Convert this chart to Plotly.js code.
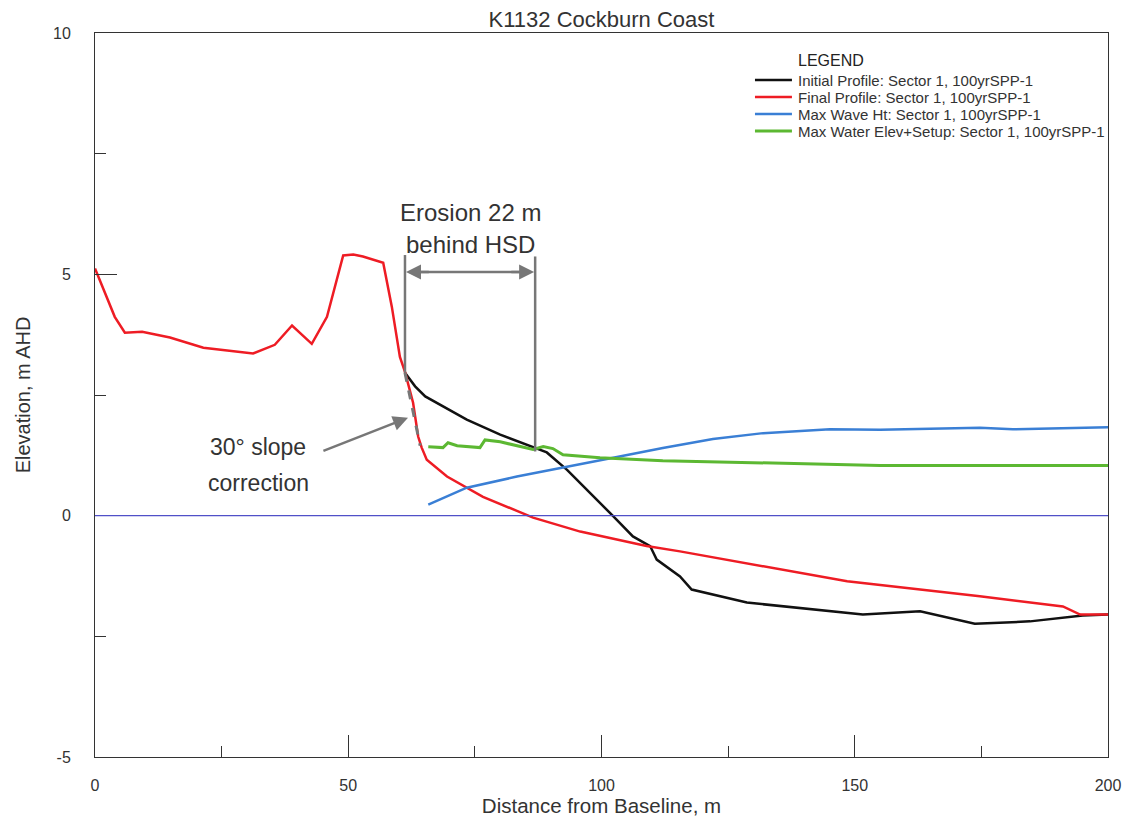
<!DOCTYPE html>
<html>
<head>
<meta charset="utf-8">
<script src="https://cdn.plot.ly/plotly-3.0.1.min.js"></script>
<style>html,body{margin:0;padding:0;background:#fff}#chart{width:1129px;height:822px}</style>
</head>
<body>
<div id="chart"></div>
<script>
// Initial Profile
const initialX = [61.2, 63.2, 65.2, 73.4, 80, 86.5, 89.2, 93.2, 95.8, 102.3, 106.2, 109.6, 110.9, 115.5, 117.8, 128.7, 151.6, 162.9, 173.7, 184.6, 195, 200];
const initialY = [2.96, 2.68, 2.47, 1.99, 1.68, 1.43, 1.31, 0.95, 0.68, -0.01, -0.43, -0.63, -0.91, -1.26, -1.53, -1.80, -2.05, -1.98, -2.24, -2.19, -2.07, -2.05];
// Final Profile
const finalX = [0, 3.9, 5.9, 9.3, 14.8, 21.4, 31.2, 35.5, 38.9, 42.8, 45.8, 49.0, 51, 52.9, 56.9, 58.6, 60.2, 61.2, 62.8, 63.8, 64.5, 65.5, 69.5, 76.6, 86.5, 95.8, 108.9, 115.5, 148.5, 174.7, 191.1, 194.5, 200];
const finalY = [5.12, 4.12, 3.79, 3.81, 3.69, 3.48, 3.36, 3.54, 3.94, 3.56, 4.12, 5.39, 5.41, 5.37, 5.24, 4.33, 3.29, 2.98, 2.34, 1.64, 1.41, 1.16, 0.81, 0.39, -0.04, -0.33, -0.63, -0.74, -1.36, -1.67, -1.88, -2.05, -2.05];
// Max Wave Ht
const waveX = [65.8, 73.4, 83.3, 93.2, 102.3, 112.1, 122, 131.9, 145.1, 155, 174.7, 181.2, 200];
const waveY = [0.23, 0.58, 0.81, 1.02, 1.20, 1.40, 1.59, 1.71, 1.79, 1.78, 1.82, 1.79, 1.83];
// Max Water Elev+Setup
const waterX = [65.8, 68.7, 69.7, 71.5, 76, 77, 80, 86.5, 88.5, 90.4, 92.4, 99.7, 112.1, 135.2, 155, 200];
const waterY = [1.43, 1.41, 1.51, 1.45, 1.41, 1.57, 1.53, 1.37, 1.43, 1.39, 1.26, 1.20, 1.14, 1.08, 1.04, 1.04];

const seriesNames = [
  'Initial Profile: Sector 1, 100yrSPP-1',
  'Final Profile: Sector 1, 100yrSPP-1',
  'Max Wave Ht: Sector 1, 100yrSPP-1',
  'Max Water Elev+Setup: Sector 1, 100yrSPP-1'
];
const seriesColors = ['#111111', '#ee1c24', '#3a7fd5', '#5cb832'];
const seriesWidths = [2.5, 2.5, 2.5, 3];

// Annotation values
const erosionStartX = 61.2, erosionEndX = 86.9, arrowY = 5.05;
const slopeTop = [61.2, 2.96], slopeBottom = [64.2, 1.45];

const traces = [initialX, finalX, waveX, waterX].map((xs, i) => ({
  type: 'scatter', mode: 'lines', hoverinfo: 'skip', showlegend: false,
  x: xs, y: [initialY, finalY, waveY, waterY][i], name: seriesNames[i],
  line: {color: seriesColors[i], width: seriesWidths[i]}
}));

const grey = '#777777';
const FONT = 'Liberation Sans, Arial, sans-serif';
const axisCommon = {
  showline: true, mirror: true, linecolor: '#333', linewidth: 1,
  showgrid: false, zeroline: false,
  ticks: 'inside', ticklen: 22, tickcolor: '#333', tickwidth: 1,
  tickfont: {family: FONT, size: 16, color: '#333'},
  minor: {ticks: 'inside', ticklen: 11, tickcolor: '#333', showgrid: false}
};

// Manual legend (paper coordinates of the plot area)
const legX0 = 0.6515, legX1 = 0.688, legTextX = 0.692, legTop = 0.935, legStep = 0.0235;
const legendShapes = seriesNames.map((n, i) => ({
  type: 'line', xref: 'paper', yref: 'paper', x0: legX0, x1: legX1,
  y0: legTop - i * legStep, y1: legTop - i * legStep,
  line: {color: seriesColors[i], width: seriesWidths[i]}
}));
const legendTexts = seriesNames.map((n, i) => ({
  text: n, xref: 'paper', yref: 'paper', x: legTextX, y: legTop - i * legStep,
  xanchor: 'left', yanchor: 'middle', showarrow: false,
  font: {family: FONT, size: 15, color: '#333'}
}));

const layout = {
  width: 1129, height: 822,
  margin: {l: 95, r: 21, t: 33, b: 65},
  paper_bgcolor: '#fff', plot_bgcolor: '#fff',
  font: {family: FONT, color: '#333'},
  title: {text: 'K1132 Cockburn Coast', xref: 'paper', x: 0.5, xanchor: 'center', y: 0.976, yanchor: 'middle',
          font: {size: 22, color: '#333'}},
  xaxis: Object.assign({}, axisCommon, {
    range: [0, 200], tickvals: [0, 50, 100, 150, 200], ticktext: ['0', '50', '100', '150', '200'],
    minor: Object.assign({}, axisCommon.minor, {tickvals: [25, 75, 125, 175]}),
    ticklabelstandoff: 14,
    title: {text: 'Distance from Baseline, m', font: {size: 20.5, color: '#333'}, standoff: 4}
  }),
  yaxis: Object.assign({}, axisCommon, {
    range: [-5, 10], tickvals: [-5, 0, 5, 10], ticktext: ['-5', '0', '5', '10'],
    minor: Object.assign({}, axisCommon.minor, {tickvals: [-2.5, 2.5, 7.5]}),
    ticklabelstandoff: 20,
    title: {text: 'Elevation, m AHD', font: {size: 20, color: '#333'}, standoff: 17}
  }),
  showlegend: false,
  shapes: [
    {type: 'line', xref: 'x', yref: 'y', x0: 0, x1: 200, y0: 0, y1: 0, line: {color: '#5050c8', width: 1.2}},
    {type: 'line', xref: 'x', yref: 'y', x0: erosionStartX, x1: erosionStartX, y0: 2.96, y1: 5.4, line: {color: grey, width: 2.5}},
    {type: 'line', xref: 'x', yref: 'y', x0: erosionEndX, x1: erosionEndX, y0: 1.33, y1: 5.37, line: {color: grey, width: 2.5}},
    {type: 'line', xref: 'x', yref: 'y', x0: erosionStartX + 1, x1: erosionEndX - 1, y0: arrowY, y1: arrowY, line: {color: grey, width: 2.5}},
    {type: 'line', xref: 'x', yref: 'y', x0: slopeTop[0], x1: slopeBottom[0], y0: slopeTop[1], y1: slopeBottom[1], line: {color: grey, width: 3, dash: 'dash'}}
  ].concat(legendShapes),
  annotations: [
    {text: 'LEGEND', xref: 'paper', yref: 'paper', x: 0.692, y: 0.9627, xanchor: 'left', yanchor: 'middle', showarrow: false,
     font: {size: 16, color: '#222'}},
    {text: 'Erosion 22 m', xref: 'x', yref: 'y', x: 74.1, y: 6.28, xanchor: 'center', yanchor: 'middle', showarrow: false,
     font: {size: 24, color: '#333'}},
    {text: 'behind HSD', xref: 'x', yref: 'y', x: 74.1, y: 5.61, xanchor: 'center', yanchor: 'middle', showarrow: false,
     font: {size: 24, color: '#333'}},
    // double-headed arrow heads
    {xref: 'x', yref: 'y', axref: 'x', ayref: 'y', x: erosionEndX - 0.2, y: arrowY, ax: erosionEndX - 5, ay: arrowY,
     text: '', showarrow: true, arrowhead: 2, arrowsize: 1.2, arrowwidth: 2.5, arrowcolor: grey, standoff: 0},
    {xref: 'x', yref: 'y', axref: 'x', ayref: 'y', x: erosionStartX + 0.2, y: arrowY, ax: erosionStartX + 5, ay: arrowY,
     text: '', showarrow: true, arrowhead: 2, arrowsize: 1.2, arrowwidth: 2.5, arrowcolor: grey, standoff: 0},
    {text: '30° slope', xref: 'x', yref: 'y', x: 32.2, y: 1.43, xanchor: 'center', yanchor: 'middle', showarrow: false,
     font: {size: 23, color: '#333'}},
    {text: 'correction', xref: 'x', yref: 'y', x: 32.2, y: 0.68, xanchor: 'center', yanchor: 'middle', showarrow: false,
     font: {size: 23, color: '#333'}},
    {xref: 'x', yref: 'y', axref: 'x', ayref: 'y', x: 61.8, y: 2.03, ax: 44.8, ay: 1.33,
     text: '', showarrow: true, arrowhead: 2, arrowsize: 1.2, arrowwidth: 2.5, arrowcolor: grey, standoff: 0}
  ].concat(legendTexts)
};

Plotly.newPlot('chart', traces, layout, {displayModeBar: false, staticPlot: true});
</script>
</body>
</html>
